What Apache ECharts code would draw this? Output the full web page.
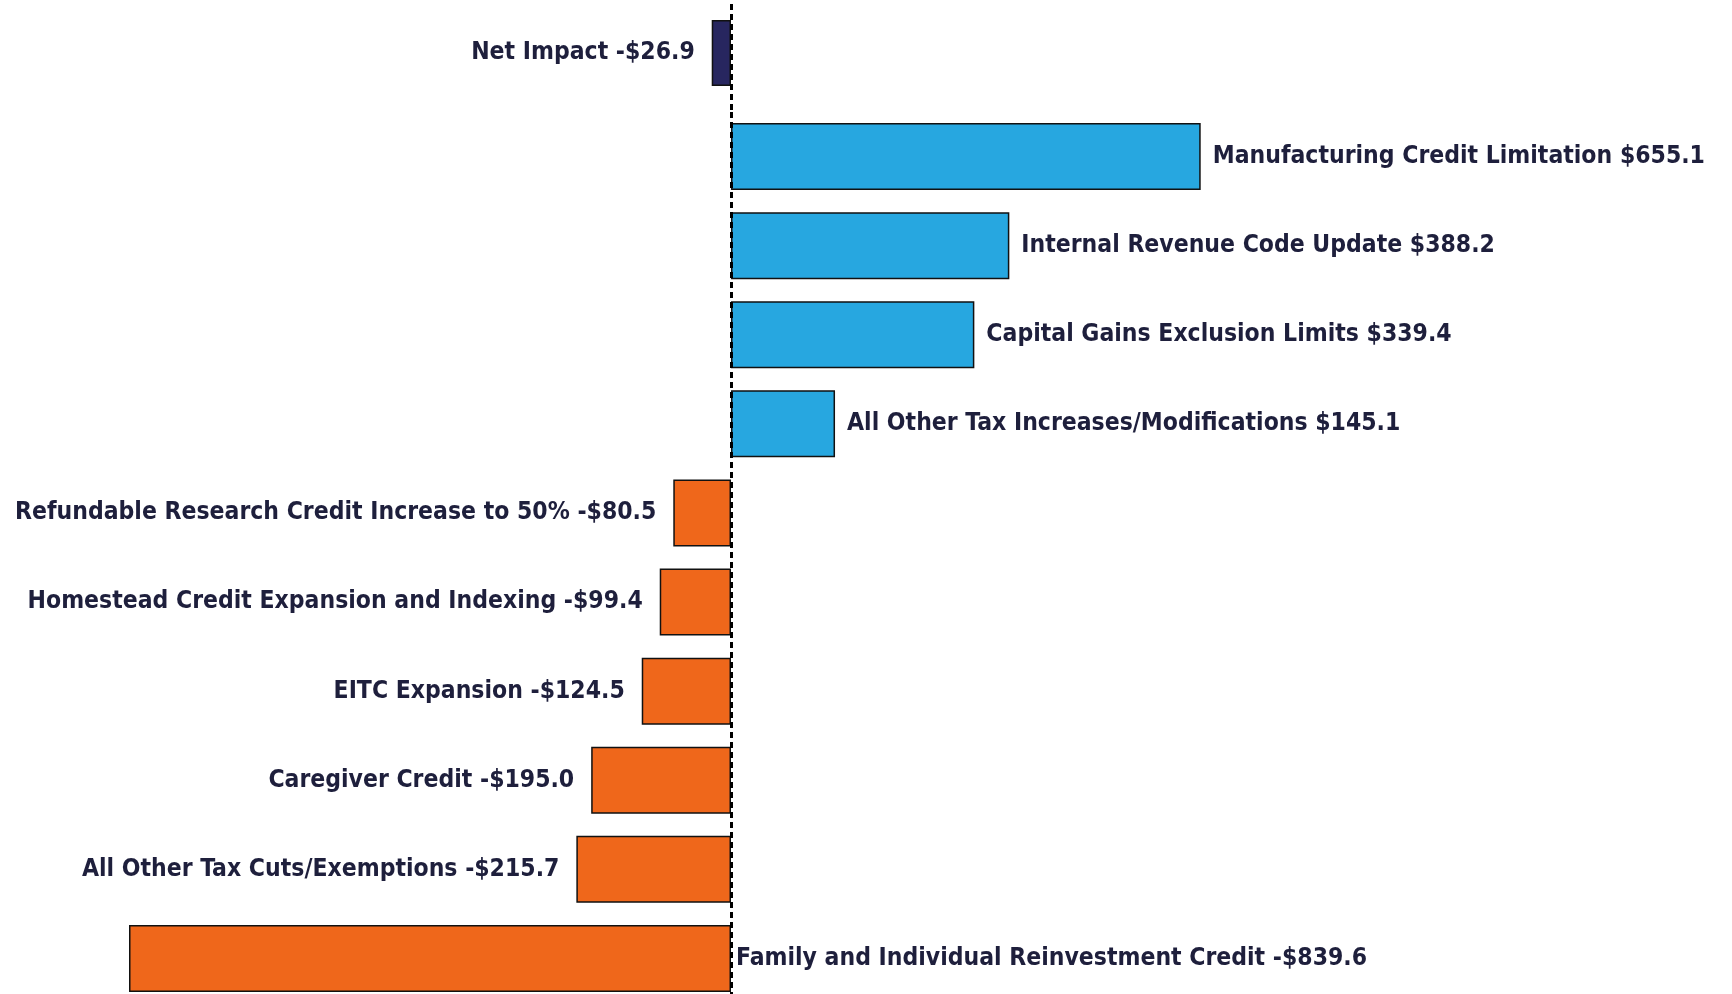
<!DOCTYPE html>
<html>
<head>
<meta charset="utf-8">
<script src="https://cdn.jsdelivr.net/npm/echarts@6/dist/echarts.min.js"></script>
<style>
    html, body { margin: 0; padding: 0; background: #fff; }
    #myChart { width: 1732px; height: 994px; }
</style>
</head>
<body>
<div id="myChart"></div>
<script>
    // rows of the second block, top to bottom
    var categories = [
        'Manufacturing Credit Limitation',
        'Internal Revenue Code Update',
        'Capital Gains Exclusion Limits',
        'All Other Tax Increases/Modifications',
        'Refundable Research Credit Increase to 50%',
        'Homestead Credit Expansion and Indexing',
        'EITC Expansion',
        'Caregiver Credit',
        'All Other Tax Cuts/Exemptions',
        'Family and Individual Reinvestment Credit'
    ];
    var values = [655.1, 388.2, 339.4, 145.1, -80.5, -99.4, -124.5, -195.0, -215.7, -839.6];
    var netCategory = ['Net Impact'];
    var netValue = [-26.9];

    var BLUE = '#27a7e0', ORANGE = '#ef671b', NAVY = '#27265f', TEXT = '#1e1f3c';
    var FONT = '"DejaVu Sans Condensed", "Liberation Sans Narrow", sans-serif';

    function money(v) {
        return (v < 0 ? '-$' : '$') + Math.abs(v).toFixed(1);
    }

    function labelFor(v, inside) {
        // negative bars put their label left, the big one sits right of the zero line
        if (v >= 0) return { position: 'right', distance: 12 };
        if (inside) return { position: 'right', distance: 5 };
        return { position: 'left', distance: 17 };
    }

    var zeroLine = {
        silent: true,
        symbol: 'none',
        label: { show: false },
        lineStyle: { color: '#000', width: 3, type: [6, 4] },
        data: [{ xAxis: 0 }],
        z: 10
    };

    var baseLabel = {
        show: true,
        color: TEXT,
        fontFamily: FONT,
        fontSize: 24.5,
        fontWeight: 'bold',
        formatter: function (p) { return p.name + ' ' + money(p.value); }
    };

    var mainData = values.map(function (v, i) {
        return {
            value: v,
            itemStyle: { color: v >= 0 ? BLUE : ORANGE },
            label: labelFor(v, i === values.length - 1)
        };
    });

    var netData = netValue.map(function (v) {
        return { value: v, itemStyle: { color: NAVY }, label: labelFor(v, false) };
    });

    var myChart = echarts.init(document.getElementById('myChart'));
    myChart.setOption({
        animation: false,
        grid: [
            { left: 14, width: 1434, top: -6, height: 118, outerBoundsMode: 'none' },
            { left: 14, width: 1434, top: 112, height: 891, outerBoundsMode: 'none' }
        ],
        xAxis: [0, 1].map(function (g) {
            return {
                type: 'value', gridIndex: g, min: -1000, max: 1000, show: false
            };
        }),
        yAxis: [
            { type: 'category', gridIndex: 0, data: netCategory, inverse: true, show: false },
            { type: 'category', gridIndex: 1, data: categories, inverse: true, show: false }
        ],
        series: [
            {
                type: 'bar', xAxisIndex: 0, yAxisIndex: 0,
                barWidth: 66,
                data: netData,
                itemStyle: { borderColor: '#111', borderWidth: 1.5 },
                label: baseLabel,
                markLine: zeroLine
            },
            {
                type: 'bar', xAxisIndex: 1, yAxisIndex: 1,
                barWidth: 67,
                data: mainData,
                itemStyle: { borderColor: '#111', borderWidth: 1.5 },
                label: baseLabel,
                markLine: zeroLine
            }
        ]
    });
</script>
</body>
</html>
